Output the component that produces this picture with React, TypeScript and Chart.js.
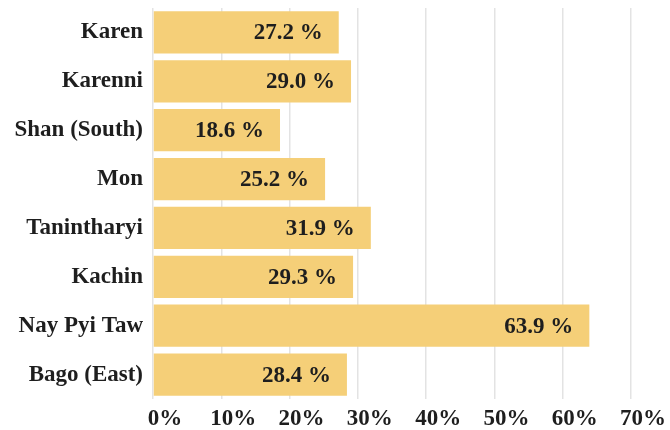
import React, { useEffect, useRef } from "react";
import { Chart, registerables } from "chart.js";

Chart.register(...registerables);

const categories = ["Karen", "Karenni", "Shan (South)", "Mon", "Tanintharyi", "Kachin", "Nay Pyi Taw", "Bago (East)"];
const values = [27.2, 29.0, 18.6, 25.2, 31.9, 29.3, 63.9, 28.4];
const xTicks = [0, 10, 20, 30, 40, 50, 60, 70];

const FONT = "'Liberation Serif', 'Times New Roman', serif";
const TEXT = "#1e1e1e";
const BAR = "rgb(245, 207, 120)";

const labelPlugin = {
  id: "barLabels",
  afterDatasetsDraw(chart: any) {
    const ctx = chart.ctx;
    const meta = chart.getDatasetMeta(0);
    ctx.save();
    ctx.font = `bold 23px ${FONT}`;
    ctx.fillStyle = TEXT;
    ctx.textAlign = "right";
    ctx.textBaseline = "middle";
    meta.data.forEach((bar: any, i: number) => {
      ctx.fillText(values[i].toFixed(1) + " %", bar.x - 16, bar.y + 1);
    });
    ctx.restore();
  },
};

export default function App() {
  const ref = useRef<HTMLCanvasElement>(null);
  useEffect(() => {
    const chart = new Chart(ref.current!, {
      type: "bar",
      data: {
        labels: categories,
        datasets: [
          {
            data: values,
            backgroundColor: BAR,
            categoryPercentage: 1,
            barPercentage: 0.866,
          },
        ],
      },
      options: {
        indexAxis: "y",
        animation: false,
        responsive: false,
        layout: { padding: { top: 8, right: 39, bottom: 0, left: 0 } },
        plugins: { legend: { display: false }, tooltip: { enabled: false } },
        scales: {
          x: {
            min: 0,
            max: 70,
            afterBuildTicks(scale: any) {
              scale.ticks = xTicks.map((v) => ({ value: v }));
            },
            afterFit(scale: any) {
              scale.height = 31;
              scale.paddingLeft = 0;
              scale.paddingRight = 0;
            },
            grid: { color: "rgba(0,0,0,0.11)", lineWidth: 1.5, drawTicks: false },
            border: { display: false },
            ticks: {
              padding: 6,
              labelOffset: 12,
              color: TEXT,
              font: { family: FONT, size: 23, weight: "bold" },
              callback: (v: any) => v + "%",
            },
          },
          y: {
            afterFit(scale: any) {
              scale.width = 153;
              scale.paddingTop = 0;
              scale.paddingBottom = 0;
            },
            grid: { display: false, drawTicks: false },
            border: { display: false },
            ticks: {
              padding: 10,
              color: TEXT,
              font: { family: FONT, size: 23, weight: "bold" },
            },
          },
        },
      },
      plugins: [labelPlugin],
    });
    return () => chart.destroy();
  }, []);
  return (
    <div style={{ position: "fixed", left: 0, top: 0, width: 670, height: 430, background: "#fff" }}>
      <canvas ref={ref} width={670} height={430} />
    </div>
  );
}
